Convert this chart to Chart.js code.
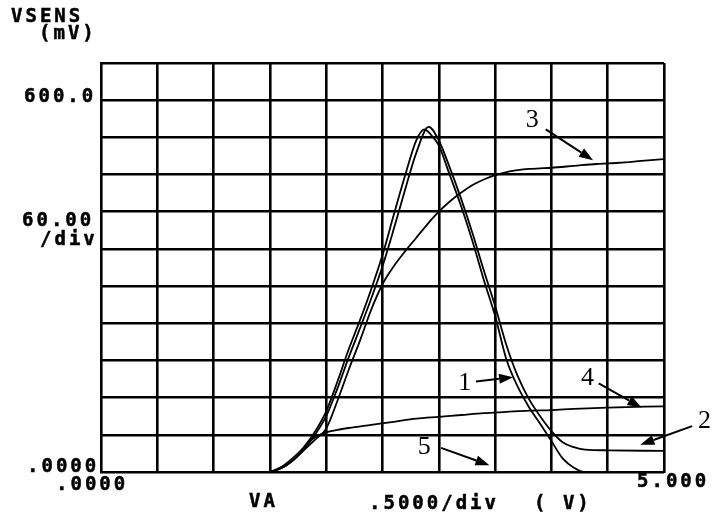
<!DOCTYPE html>
<html>
<head>
<meta charset="utf-8">
<script src="https://cdn.jsdelivr.net/npm/chart.js@4"></script>
<style>
  html, body { margin: 0; padding: 0; background: #fff; }
  #wrap { width: 717px; height: 517px; }
</style>
</head>
<body>
<div id="wrap"><canvas id="chart" width="717" height="517"></canvas></div>
<script>
// VA sweep (V) and VSENS (mV), one pair of arrays per curve
const curve1V  = [1.5, 1.6, 1.7, 1.8, 1.9, 2.0, 2.1, 2.2, 2.3, 2.4, 2.5, 2.6, 2.7, 2.8, 2.87, 2.95, 3.0, 3.1, 3.2, 3.3, 3.4, 3.5, 3.6, 3.7, 3.8, 3.9, 4.0, 4.1, 4.2, 4.3, 5.0];
const curve1mV = [0, 8, 22, 40, 65, 98, 146, 198, 245, 295, 350, 415, 478, 535, 553, 540, 527, 478, 428, 372, 310, 252, 182, 138, 105, 78, 50, 22, 7, 0, 0];

const curve2V  = [1.5, 1.6, 1.7, 1.8, 1.9, 2.0, 2.1, 2.2, 2.3, 2.4, 2.5, 2.6, 2.7, 2.8, 2.91, 3.0, 3.1, 3.2, 3.3, 3.4, 3.5, 3.6, 3.7, 3.8, 3.9, 4.0, 4.1, 4.2, 4.3, 4.5, 5.0];
const curve2mV = [0, 6, 18, 36, 60, 90, 135, 185, 232, 280, 332, 392, 455, 515, 557, 535, 490, 440, 385, 325, 268, 205, 155, 118, 90, 66, 48, 40, 36, 35, 34];

const curve3V  = [1.5, 1.6, 1.7, 1.8, 1.9, 2.0, 2.1, 2.2, 2.3, 2.4, 2.5, 2.6, 2.7, 2.8, 2.9, 3.0, 3.1, 3.2, 3.3, 3.4, 3.5, 3.6, 3.7, 3.8, 3.9, 4.0, 4.2, 4.4, 4.6, 4.8, 5.0];
const curve3mV = [0, 6, 18, 35, 52, 70, 115, 165, 212, 262, 303, 332, 356, 378, 400, 420, 437, 451, 463, 472, 479, 484, 487, 489, 490, 491, 494, 497, 499, 502, 505];

const curve4V  = [1.5, 1.6, 1.7, 1.8, 1.85, 1.9, 2.0, 2.1, 2.2, 2.4, 2.6, 2.8, 3.0, 3.2, 3.4, 3.6, 3.8, 4.0, 4.2, 4.5, 5.0];
const curve4mV = [0, 6, 18, 36, 48, 56, 64, 68, 71, 76, 81, 86, 89, 92, 95, 97, 99, 100, 102, 104, 106];

const curve5V  = [0, 1.0, 2.0, 3.0, 4.0, 5.0];
const curve5mV = [0, 0, 0, 0, 0, 0];

const curveNames = ['1', '2', '3', '4', '5'];

const yTitle = 'VSENS';
const yUnit = '(mV)';
const yTop = '600.0';
const yDiv = '60.00';
const yDivUnit = '/div';
const yZero = '.0000';
const xZero = '.0000';
const xTitle = 'VA';
const xDiv = '.5000/div';
const xUnit = '( V)';
const xEnd = '5.000';

function pts(xs, ys) {
  return xs.map((x, i) => ({ x, y: ys[i] }));
}

// curve tags with arrows, in data units (V, mV)
const notes = [
  { text: '3', at: [3.83, 568], from: [3.95, 553], to: [4.37, 503] },
  { text: '4', at: [4.32, 152], from: [4.42, 143], to: [4.80, 104] },
  { text: '1', at: [3.23, 144], from: [3.33, 146], to: [3.66, 153] },
  { text: '2', at: [5.36, 82], from: [5.25, 74], to: [4.79, 44] },
  { text: '5', at: [2.87, 40], from: [3.02, 39], to: [3.45, 11] }
];

const plotterText = {
  id: 'plotterText',
  afterDraw(chart) {
    const ctx = chart.ctx;
    const xs = chart.scales.x, ys = chart.scales.y;
    ctx.save();
    ctx.fillStyle = '#000';
    ctx.strokeStyle = '#000';
    ctx.font = 'bold 19px "DejaVu Sans Mono"';
    ctx.letterSpacing = '3px';
    ctx.textBaseline = 'middle';
    ctx.textAlign = 'left';
    ctx.lineWidth = 0.5;
    const put = (s, x, y) => { ctx.fillText(s, x, y); ctx.strokeText(s, x, y); };
    put(yTitle, 11, 17);
    put(yUnit, 39, 34);
    put(yTop, 24, 97);
    put(yDiv, 22, 221);
    put(yDivUnit, 40, 240);
    put(yZero, 27, 467);
    put(xZero, 56, 485);
    put(xTitle, 249, 502);
    put(xDiv, 369, 504);
    put(xUnit, 534, 504);
    put(xEnd, 637, 482);

    ctx.letterSpacing = '0px';
    ctx.font = '26px "Liberation Serif"';
    ctx.textAlign = 'center';
    ctx.lineWidth = 2;
    notes.forEach(n => {
      const lx = xs.getPixelForValue(n.at[0]), ly = ys.getPixelForValue(n.at[1]);
      ctx.fillText(n.text, lx, ly);
      const x0 = xs.getPixelForValue(n.from[0]), y0 = ys.getPixelForValue(n.from[1]);
      const x1 = xs.getPixelForValue(n.to[0]), y1 = ys.getPixelForValue(n.to[1]);
      const a = Math.atan2(y1 - y0, x1 - x0);
      const len = 14, half = 5;
      const bx = x1 - len * Math.cos(a), by = y1 - len * Math.sin(a);
      ctx.beginPath();
      ctx.moveTo(x0, y0);
      ctx.lineTo(bx, by);
      ctx.stroke();
      ctx.beginPath();
      ctx.moveTo(x1, y1);
      ctx.lineTo(bx + half * Math.sin(a), by - half * Math.cos(a));
      ctx.lineTo(bx - half * Math.sin(a), by + half * Math.cos(a));
      ctx.closePath();
      ctx.fill();
    });
    ctx.restore();
  }
};

const series = [
  pts(curve1V, curve1mV),
  pts(curve2V, curve2mV),
  pts(curve3V, curve3mV),
  pts(curve4V, curve4mV),
  pts(curve5V, curve5mV)
];

const datasets = series.map((data, i) => ({
  label: curveNames[i],
  data,
  borderColor: '#000',
  borderWidth: 1.8,
  pointRadius: 0,
  fill: false,
  cubicInterpolationMode: 'monotone',
  clip: false
}));

new Chart(document.getElementById('chart'), {
  type: 'line',
  data: { datasets },
  options: {
    responsive: false,
    animation: false,
    devicePixelRatio: 1,
    layout: { padding: { left: 101, right: 53, top: 63, bottom: 45 } },
    plugins: {
      legend: { display: false },
      tooltip: { enabled: false }
    },
    scales: {
      x: {
        type: 'linear',
        min: 0,
        max: 5,
        ticks: { display: false, stepSize: 0.5 },
        grid: { color: '#000', lineWidth: 2.6, drawTicks: false },
        border: { display: true, color: '#000', width: 2 },
        afterFit: s => { s.height = 0; }
      },
      y: {
        min: 0,
        max: 660,
        ticks: { display: false, stepSize: 60 },
        grid: { color: '#000', lineWidth: 2.6, drawTicks: false },
        border: { display: true, color: '#000', width: 2 },
        afterFit: s => { s.width = 0; }
      }
    }
  },
  plugins: [plotterText]
});
</script>
</body>
</html>
